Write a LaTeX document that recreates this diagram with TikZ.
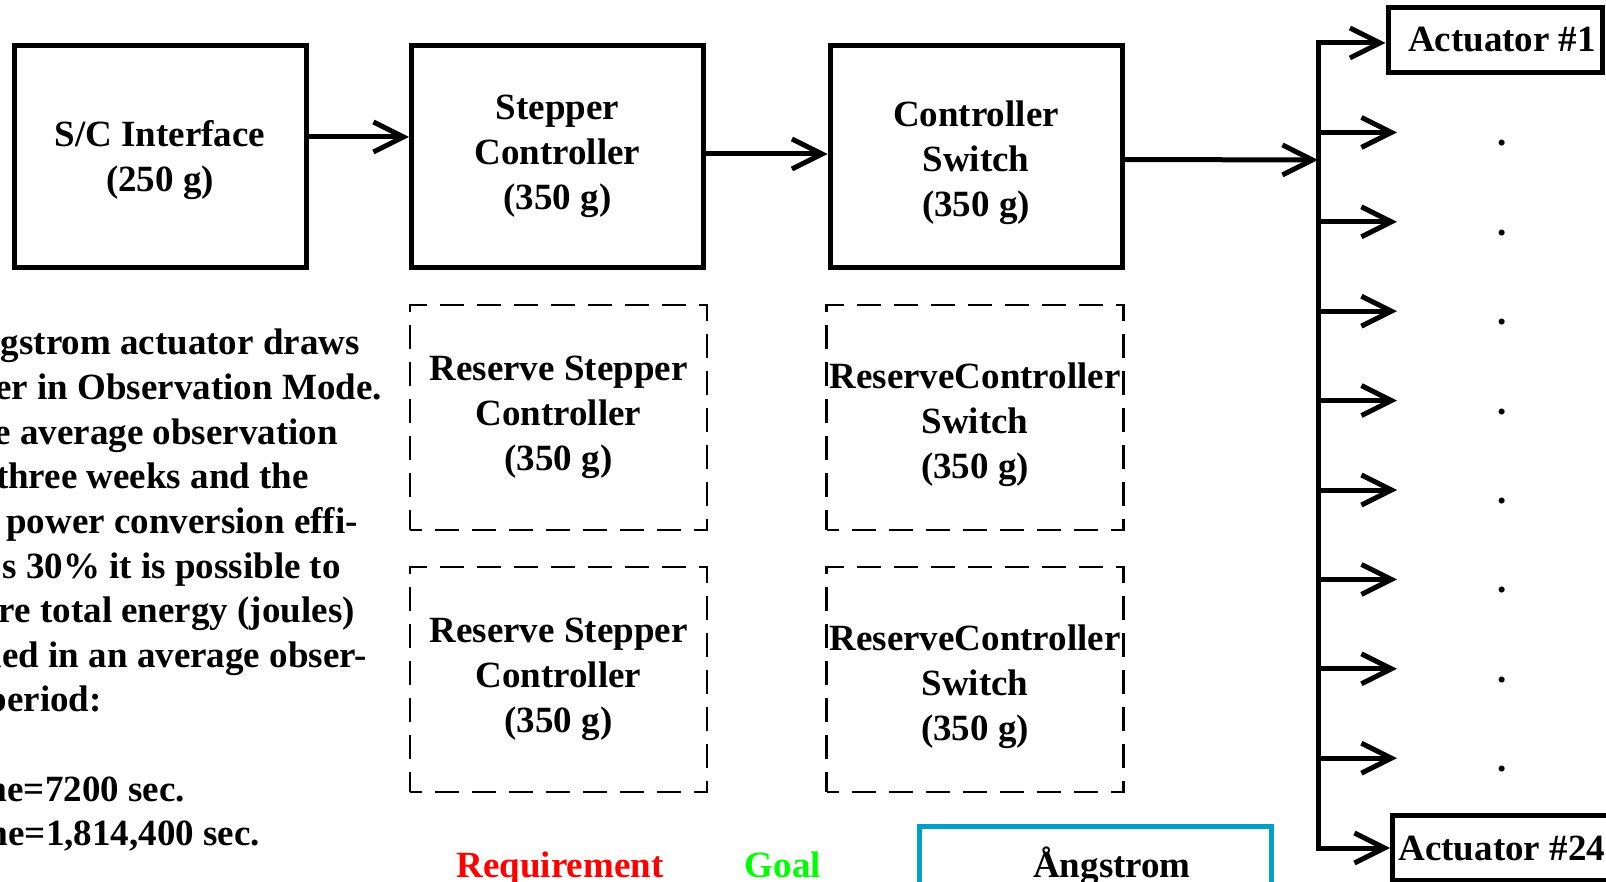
\documentclass[tikz,border=0pt]{standalone}
\usepackage{fontspec}
\setmainfont{Liberation Serif}
\usetikzlibrary{arrows.meta}
\definecolor{ReqRed}{RGB}{255,0,0}
\definecolor{GoalGreen}{RGB}{0,255,0}
\definecolor{FrameCyan}{RGB}{0,160,198}
\tikzset{
  every node/.style={font=\bfseries\fontsize{37pt}{45pt}\selectfont},
  block/.style={draw,line width=5pt,minimum width=292pt,minimum height=222pt,
    align=center,inner sep=0pt},
  reserve/.style={draw,line width=2.5pt,dash pattern=on 24pt off 13pt,
    dash phase=12pt,minimum width=297pt,minimum height=225pt,align=center,
    inner sep=0pt},
  actbox/.style={draw,line width=5pt,minimum height=65pt,inner xsep=6pt},
  link/.style={line width=5pt,-{Straight Barb[length=30pt,width=30pt]}},
  ellip/.style={anchor=base,inner sep=0pt},
  note/.style={anchor=base east,inner sep=0pt}
}

\begin{document}
\begin{tikzpicture}[x=1pt,y=-1pt]
  \useasboundingbox (0,0) rectangle (1606,882);
  \clip (0,0) rectangle (1606,882);

  % main chain
  \node[block] (sc) at (160,156.5) {\rule{0pt}{34pt}S/C Interface\\(250 g)};
  \node[block] (stepper) at (557.5,156.5) {Stepper\\Controller\\(350 g)};
  \node[block] (switch) at (976,156.5) {\rule{0pt}{39pt}Controller\\Switch\\(350 g)};

  % reserves
  \node[reserve] (rstep1) at (558.5,417.5) {Reserve Stepper\\Controller\\(350 g)};
  \node[reserve] (rstep2) at (558.5,679.5) {Reserve Stepper\\Controller\\(350 g)};
  \node[reserve] (rsw1) at (975,417.5) {\rule{0pt}{41pt}ReserveController\\Switch\\(350 g)};
  \node[reserve] (rsw2) at (975,679.5) {\rule{0pt}{40pt}ReserveController\\Switch\\(350 g)};

  \draw[link] ([yshift=19.5pt]sc.east) -- ([yshift=19.5pt]stepper.west);
  \draw[link] ([xshift=-4pt,yshift=2.5pt]stepper.east) -- ([yshift=2.5pt]switch.west);

  % actuator bus
  \node[actbox,minimum width=210pt] (act1) at (1495,40) {\kern14pt Actuator \#1};
  \node[actbox,anchor=west] (act24) at (1390,848) {Actuator \#24};
  \coordinate (busin) at (1318,160);
  \coordinate (bustop) at (1318,43);
  \coordinate (busbot) at (1318,848);
  \draw[link] ([yshift=-3pt]switch.east) -- (busin);
  \draw[link] (busin) -- (bustop) -- (bustop -| act1.west);
  \draw[link] (busin) -- (busbot) -- (busbot -| act24.west);
  \foreach \k in {1,...,8}{
    \coordinate (tap\k) at (1318,{43+89.4*\k});
    \coordinate (tip\k) at (1397,{43+89.4*\k});
    \node[ellip] (dot\k) at (1502,{56.5+89.4*\k}) {.};
    \draw[link] (tap\k) -- (tip\k);
  }

  % energy note (runs off the left edge)
  \foreach \xe/\yb/\txt [count=\i] in {
      360/355/{gstrom actuator draws},
      382/399.6/{er in Observation Mode.},
      338/444.2/{e average observation},
      309/488.8/{three weeks and the},
      358/533.4/{power conversion effi-},
      341/578/{s 30\% it is possible to},
      355/622.6/{re total energy (joules)},
      367/667.2/{ned in an average obser-},
      102/711.8/{period:},
      185/801/{me=7200 sec.},
      260/845.6/{me=1,814,400 sec.}}
    \node[note] (note\i) at (\xe,\yb) {\txt};

  % legend
  \node[anchor=base,text=ReqRed] (req) at (560,877) {Requirement};
  \node[anchor=base,text=GoalGreen] (goal) at (783,877) {Goal};
  \node[draw=FrameCyan,line width=5pt,minimum width=352pt,minimum height=150pt,
    anchor=north] (legend) at (1095.5,823.5) {};
  \node[anchor=base] (ang) at (1112,877) {Ångstrom};
\end{tikzpicture}
\end{document}
